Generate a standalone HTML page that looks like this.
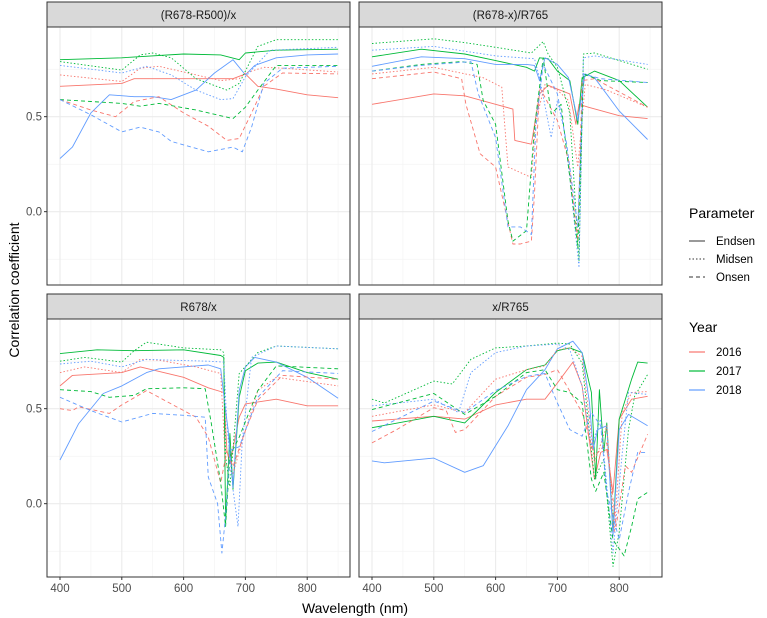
<!DOCTYPE html>
<html><head><meta charset="utf-8"><style>
body{margin:0;background:#fff;}
svg{display:block;font-family:"Liberation Sans",sans-serif;}
</style></head><body>
<svg id="chart" width="767" height="618" viewBox="0 0 767 618" xmlns="http://www.w3.org/2000/svg">
<rect width="767" height="618" fill="#fff"/>
<g id="panels"></g>
<text x="0" y="0" transform="translate(19,290) rotate(-90)" text-anchor="middle" font-size="14" fill="#000">Correlation coefficient</text>
<text x="355" y="613" text-anchor="middle" font-size="14" fill="#000">Wavelength (nm)</text>
<g>
<text x="689" y="218" font-size="14" fill="#000">Parameter</text>
<line x1="689" y1="241" x2="705" y2="241" stroke="#333" stroke-width="1"/>
<text x="716" y="245" font-size="11.5" fill="#000">Endsen</text>
<line x1="689" y1="259" x2="705" y2="259" stroke="#333" stroke-width="1" stroke-dasharray="1.5 2"/>
<text x="716" y="263" font-size="11.5" fill="#000">Midsen</text>
<line x1="689" y1="277" x2="705" y2="277" stroke="#333" stroke-width="1" stroke-dasharray="4 3"/>
<text x="716" y="281" font-size="11.5" fill="#000">Onsen</text>
</g>
<g>
<text x="689" y="332" font-size="14" fill="#000">Year</text>
<line x1="689" y1="352" x2="705" y2="352" stroke="#F8766D" stroke-width="1.2"/>
<text x="716" y="356" font-size="11.5" fill="#000">2016</text>
<line x1="689" y1="371" x2="705" y2="371" stroke="#00BA38" stroke-width="1.2"/>
<text x="716" y="375" font-size="11.5" fill="#000">2017</text>
<line x1="689" y1="390" x2="705" y2="390" stroke="#619CFF" stroke-width="1.2"/>
<text x="716" y="394" font-size="11.5" fill="#000">2018</text>
</g>
</svg>
<script>
const panelTitles = ["(R678-R500)/x","(R678-x)/R765","R678/x","x/R765"];
const xTicks = [400,500,600,700,800];
const xMinor = [450,550,650,750,850];
const yTicks = [0.0,0.5];
const yTickLabels = ["0.0","0.5"];
const yMinor = [-0.25,0.25,0.75];
const years = ["2016","2017","2018"];
const params = ["Endsen","Midsen","Onsen"];

// Panel 1: (R678-R500)/x
const p1E16w=[400,500,520,600,680,700,720,750,800,850];
const p1E16v=[0.66,0.675,0.70,0.70,0.70,0.725,0.66,0.645,0.615,0.60];
const p1E17w=[400,500,600,660,690,700,750,850];
const p1E17v=[0.80,0.81,0.83,0.825,0.80,0.835,0.85,0.855];
const p1E18w=[400,420,450,480,520,550,580,620,650,680,700,715,750,800,850];
const p1E18v=[0.28,0.34,0.52,0.615,0.605,0.605,0.59,0.64,0.73,0.80,0.72,0.77,0.81,0.825,0.83];
const p1M16w=[400,500,530,560,600,660,690,700,730,760,850];
const p1M16v=[0.72,0.685,0.755,0.765,0.735,0.69,0.70,0.73,0.76,0.755,0.735];
const p1M17w=[400,500,530,550,580,620,670,690,720,750,850];
const p1M17v=[0.79,0.745,0.825,0.835,0.81,0.70,0.64,0.675,0.87,0.905,0.905];
const p1M18w=[400,500,540,580,620,660,680,700,740,850];
const p1M18v=[0.77,0.73,0.765,0.72,0.64,0.59,0.595,0.71,0.85,0.865];
const p1O16w=[400,450,490,520,560,600,640,670,690,710,730,760,850];
const p1O16v=[0.59,0.535,0.50,0.58,0.605,0.52,0.45,0.375,0.385,0.52,0.66,0.73,0.725];
const p1O17w=[400,450,500,530,560,620,680,700,720,750,850];
const p1O17v=[0.59,0.58,0.57,0.555,0.57,0.535,0.49,0.55,0.64,0.77,0.77];
const p1O18w=[400,450,500,530,560,580,640,680,695,710,730,760,850];
const p1O18v=[0.59,0.51,0.42,0.445,0.42,0.37,0.315,0.34,0.315,0.445,0.675,0.755,0.765];

// Panel 2: (R678-x)/R765
const p2E16w=[400,500,550,600,628,631,658,671,685,700,720,730,735,750,800,846];
const p2E16v=[0.565,0.62,0.61,0.565,0.54,0.375,0.355,0.62,0.665,0.645,0.62,0.46,0.565,0.55,0.505,0.49];
const p2E17w=[400,480,550,600,650,663,671,685,700,720,733,740,760,800,846];
const p2E17v=[0.815,0.855,0.83,0.795,0.76,0.74,0.81,0.805,0.74,0.69,0.46,0.705,0.74,0.69,0.55];
const p2E18w=[400,480,550,600,650,663,671,680,700,718,733,745,760,800,846];
const p2E18v=[0.765,0.815,0.805,0.775,0.775,0.77,0.69,0.81,0.775,0.705,0.48,0.725,0.705,0.53,0.38];
const p2M16w=[400,500,580,610,620,658,665,680,700,718,733,745,780,846];
const p2M16v=[0.725,0.76,0.705,0.655,0.235,0.18,0.48,0.67,0.64,0.585,0.235,0.67,0.64,0.55];
const p2M17w=[400,500,550,600,658,677,685,700,720,735,742,760,846];
const p2M17v=[0.885,0.91,0.89,0.865,0.835,0.895,0.83,0.76,0.515,-0.26,0.83,0.835,0.75];
const p2M18w=[400,500,600,663,671,690,700,710,720,735,742,760,846];
const p2M18v=[0.85,0.87,0.82,0.805,0.705,0.39,0.585,0.445,0.18,-0.295,0.81,0.82,0.775];
const p2O16w=[400,500,545,552,575,600,628,640,658,663,671,700,718,733,740,760,846];
const p2O16v=[0.70,0.735,0.70,0.565,0.305,0.235,-0.17,-0.17,-0.155,0.095,0.655,0.48,0.27,-0.155,0.69,0.70,0.55];
const p2O17w=[400,480,545,570,580,600,620,628,650,663,677,690,706,720,733,742,770,846];
const p2O17v=[0.74,0.775,0.79,0.775,0.585,0.46,-0.05,-0.155,-0.10,0.445,0.81,0.515,0.565,0.18,-0.19,0.725,0.69,0.68];
const p2O18w=[400,480,560,572,600,620,640,658,665,677,700,715,733,742,770,846];
const p2O18v=[0.74,0.77,0.79,0.62,0.39,-0.08,-0.08,-0.12,0.445,0.775,0.62,0.355,-0.08,0.725,0.70,0.68];

// Panel 3: R678/x
const p3E16w=[400,420,500,530,600,640,665,670,675,690,700,750,800,850];
const p3E16v=[0.62,0.675,0.69,0.72,0.665,0.61,0.585,0.28,0.21,0.455,0.525,0.55,0.515,0.515];
const p3E17w=[400,460,520,600,660,665,668,675,680,690,700,720,750,800,850];
const p3E17v=[0.79,0.81,0.805,0.81,0.78,0.77,-0.1,0.37,0.075,0.56,0.70,0.74,0.745,0.69,0.655];
const p3E18w=[400,430,470,500,540,560,620,640,660,668,672,680,690,700,715,750,800,850];
const p3E18v=[0.23,0.42,0.58,0.62,0.69,0.71,0.725,0.73,0.71,0.49,0.39,0.09,0.595,0.72,0.77,0.745,0.665,0.555];
const p3M16w=[400,440,500,530,560,620,660,668,680,700,720,750,850];
const p3M16v=[0.69,0.72,0.69,0.76,0.755,0.72,0.685,0.21,0.16,0.385,0.595,0.665,0.62];
const p3M17w=[400,440,500,520,540,600,660,665,668,675,690,720,750,850];
const p3M17v=[0.75,0.77,0.745,0.805,0.85,0.82,0.81,0.795,0.25,0.09,0.685,0.795,0.83,0.815];
const p3M18w=[400,450,500,540,580,640,665,670,680,688,695,710,750,850];
const p3M18v=[0.735,0.75,0.72,0.76,0.755,0.75,0.745,0.42,0.075,-0.12,0.335,0.77,0.83,0.815];
const p3O16w=[400,420,430,480,500,540,580,620,640,660,670,680,700,720,760,850];
const p3O16v=[0.50,0.49,0.51,0.475,0.52,0.595,0.525,0.455,0.35,0.11,0.28,0.195,0.385,0.545,0.675,0.655];
const p3O17w=[400,450,480,520,540,600,635,645,660,668,675,690,720,750,850];
const p3O17v=[0.60,0.59,0.56,0.57,0.605,0.61,0.605,0.42,0.11,-0.12,0.25,0.35,0.595,0.725,0.71];
const p3O18w=[400,450,500,550,600,635,640,655,662,668,675,690,700,720,760,850];
const p3O18v=[0.56,0.49,0.43,0.475,0.465,0.455,0.14,0.0,-0.26,-0.065,0.28,0.30,0.385,0.56,0.70,0.685];

// Panel 4: x/R765
const p4E16w=[400,500,550,600,650,680,700,725,740,760,770,780,790,800,820,846];
const p4E16v=[0.435,0.46,0.445,0.52,0.55,0.55,0.635,0.745,0.62,0.13,0.27,0.285,0.06,0.445,0.55,0.565];
const p4E17w=[400,500,550,600,650,680,700,720,740,755,762,768,775,780,790,800,820,830,846];
const p4E17v=[0.40,0.46,0.425,0.585,0.705,0.73,0.805,0.82,0.795,0.585,0.13,0.60,0.27,0.425,-0.15,0.445,0.655,0.745,0.74];
const p4E18w=[400,420,500,550,580,620,650,680,700,725,740,752,758,765,780,790,800,815,846];
const p4E18v=[0.225,0.215,0.24,0.165,0.20,0.41,0.60,0.705,0.815,0.855,0.795,0.53,0.285,0.39,0.41,-0.17,0.39,0.47,0.41];
const p4M16w=[400,500,550,600,650,680,700,720,740,760,780,792,805,820,846];
const p4M16v=[0.46,0.52,0.48,0.655,0.705,0.725,0.81,0.82,0.775,0.215,0.41,-0.15,0.48,0.585,0.59];
const p4M17w=[400,420,500,530,560,600,650,700,720,740,760,775,790,800,815,825,846];
const p4M17v=[0.55,0.53,0.645,0.63,0.76,0.82,0.83,0.845,0.84,0.74,0.13,0.235,-0.33,-0.15,0.39,0.565,0.68];
const p4M18w=[400,500,540,560,600,650,700,720,740,755,770,790,805,815,846];
const p4M18v=[0.515,0.55,0.48,0.69,0.795,0.83,0.84,0.81,0.62,0.305,0.445,-0.26,0.27,0.585,0.575];
const p4O16w=[400,440,500,520,535,550,600,650,680,700,740,760,780,795,810,820,846];
const p4O16v=[0.32,0.39,0.505,0.49,0.375,0.39,0.565,0.665,0.68,0.705,0.48,0.25,0.32,-0.12,0.20,0.165,0.365];
const p4O17w=[400,500,550,600,650,680,700,720,740,755,762,775,790,808,820,830,846];
const p4O17v=[0.495,0.58,0.47,0.565,0.69,0.705,0.60,0.585,0.53,0.13,0.065,0.165,-0.19,-0.275,-0.12,0.025,0.06];
const p4O18w=[400,500,550,600,650,680,700,720,740,755,770,780,800,815,830,846];
const p4O18v=[0.38,0.54,0.48,0.595,0.67,0.685,0.53,0.39,0.355,0.48,0.41,0.06,-0.19,0.06,0.27,0.27];

const seriesByPanel = [
 [[p1E16w,p1E16v,0,0],[p1E17w,p1E17v,1,0],[p1E18w,p1E18v,2,0],[p1M16w,p1M16v,0,1],[p1M17w,p1M17v,1,1],[p1M18w,p1M18v,2,1],[p1O16w,p1O16v,0,2],[p1O17w,p1O17v,1,2],[p1O18w,p1O18v,2,2]],
 [[p2E16w,p2E16v,0,0],[p2E17w,p2E17v,1,0],[p2E18w,p2E18v,2,0],[p2M16w,p2M16v,0,1],[p2M17w,p2M17v,1,1],[p2M18w,p2M18v,2,1],[p2O16w,p2O16v,0,2],[p2O17w,p2O17v,1,2],[p2O18w,p2O18v,2,2]],
 [[p3E16w,p3E16v,0,0],[p3E17w,p3E17v,1,0],[p3E18w,p3E18v,2,0],[p3M16w,p3M16v,0,1],[p3M17w,p3M17v,1,1],[p3M18w,p3M18v,2,1],[p3O16w,p3O16v,0,2],[p3O17w,p3O17v,1,2],[p3O18w,p3O18v,2,2]],
 [[p4E16w,p4E16v,0,0],[p4E17w,p4E17v,1,0],[p4E18w,p4E18v,2,0],[p4M16w,p4M16v,0,1],[p4M17w,p4M17v,1,1],[p4M18w,p4M18v,2,1],[p4O16w,p4O16v,0,2],[p4O17w,p4O17v,1,2],[p4O18w,p4O18v,2,2]]
];

const colors=["#F8766D","#00BA38","#619CFF"];
const dashes=["none","1.5 2","4 3"];
const NS="http://www.w3.org/2000/svg";
const g=document.getElementById('panels');
function mk(tag,attrs,parent){const e=document.createElementNS(NS,tag);for(const k in attrs)e.setAttribute(k,attrs[k]);(parent||g).appendChild(e);return e;}
const lefts=[47,359], stripTops=[2,294];
const W=303, STRIP=25, PH=258, VMAX=0.972, VMIN=-0.386;
for(let p=0;p<4;p++){
  const col=p%2,row=Math.floor(p/2);
  const L=lefts[col], ST=stripTops[row], T=ST+STRIP, B=T+PH;
  const xOf=w=>L+13+(w-400)*0.618;
  const yOf=v=>T+(VMAX-v)*(PH/(VMAX-VMIN));
  const pg=mk('g',{});  
  const st=mk('rect',{x:L,y:ST,width:W,height:STRIP,fill:'#D9D9D9',stroke:'#333','stroke-width':1},pg);
   
  const stt=mk('text',{x:L+W/2,y:ST+17,'text-anchor':'middle','font-size':11.5,fill:'#1a1a1a'},pg); stt.textContent=panelTitles[p];
   
  mk('rect',{x:L,y:T,width:W,height:PH,fill:'#fff'},pg);
  xMinor.forEach(w=>mk('line',{x1:xOf(w),x2:xOf(w),y1:T,y2:B,stroke:'#F2F2F2','stroke-width':0.6},pg));
  yMinor.forEach(v=>mk('line',{x1:L,x2:L+W,y1:yOf(v),y2:yOf(v),stroke:'#F2F2F2','stroke-width':0.6},pg));
  xTicks.forEach(w=>mk('line',{x1:xOf(w),x2:xOf(w),y1:T,y2:B,stroke:'#EBEBEB','stroke-width':1.1},pg));
  yTicks.forEach(v=>mk('line',{x1:L,x2:L+W,y1:yOf(v),y2:yOf(v),stroke:'#EBEBEB','stroke-width':1.1},pg));
  seriesByPanel[p].forEach(s=>{
    const [ws,vs,yi,pi]=s;
    const pts=ws.map((w,i)=>xOf(w).toFixed(1)+','+yOf(vs[i]).toFixed(1)).join(' ');
    const pl=mk('polyline',{points:pts,fill:'none',stroke:colors[yi],'stroke-width':0.9,'stroke-dasharray':dashes[pi],'stroke-linejoin':'round'},pg);
    
    
  });
  mk('rect',{x:L,y:T,width:W,height:PH,fill:'none',stroke:'#333','stroke-width':1},pg);
  if(col===0){
    yTicks.forEach((v,i)=>{
      mk('line',{x1:L-3,x2:L,y1:yOf(v),y2:yOf(v),stroke:'#333'},pg);
      const t=mk('text',{x:L-5,y:yOf(v)+4,'text-anchor':'end','font-size':11.5,fill:'#4D4D4D'},pg); t.textContent=yTickLabels[i];
       
    });
  }
  if(row===1){
    xTicks.forEach(w=>{
      mk('line',{x1:xOf(w),x2:xOf(w),y1:B,y2:B+3,stroke:'#333'},pg);
      const t=mk('text',{x:xOf(w),y:B+15,'text-anchor':'middle','font-size':11.5,fill:'#4D4D4D'},pg); t.textContent=String(w);
       
    });
  }
}
</script>
</body></html>
